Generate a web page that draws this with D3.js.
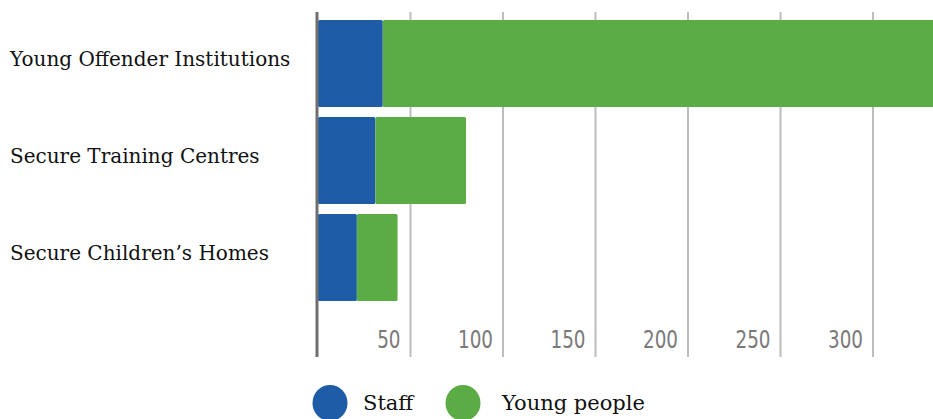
<!DOCTYPE html>
<html>
<head>
<meta charset="utf-8">
<script src="https://cdn.jsdelivr.net/npm/d3@7"></script>
<style>
  body { margin: 0; background: #fff; }
  svg { display: block; }
</style>
</head>
<body>
<div id="container"></div>
<script>
const categories  = ["Young Offender Institutions", "Secure Training Centres", "Secure Children\u2019s Homes"];
const staff       = [35, 31, 21];
const youngPeople = [315, 49, 22];
const seriesNames = ["Staff", "Young people"];
const tickValues  = [50, 100, 150, 200, 250, 300];

const width  = 933;
const height = 419;
const colors = ["#1f5ca8", "#5cac46"];

const rows = categories.map((c, i) => ({ category: c, staff: staff[i], young: youngPeople[i] }));

const svg = d3.select("#container")
  .append("svg")
    .attr("width", width)
    .attr("height", height);

const x = d3.scaleLinear()
  .domain([0, 350])
  .range([318, 318 + 350 * 1.85]);

const y = d3.scaleBand()
  .domain(categories)
  .range([20, 301])
  .paddingInner(0.103)
  .paddingOuter(0);

// gridlines
svg.append("g")
  .selectAll("line")
  .data(tickValues)
  .join("line")
    .attr("x1", d => x(d))
    .attr("x2", d => x(d))
    .attr("y1", 12)
    .attr("y2", 357)
    .attr("stroke", "#bdbdbd")
    .attr("stroke-width", 2);

// tick labels
svg.append("g")
  .selectAll("text")
  .data(tickValues)
  .join("text")
    .attr("x", d => x(d) - 10)
    .attr("y", 348)
    .attr("text-anchor", "end")
    .attr("font-family", "'DejaVu Sans Condensed', sans-serif")
    .attr("font-size", 24)
    .attr("fill", "#7a7a7a")
    .attr("transform", d => `translate(${x(d) - 10},348) scale(0.85,1.05) translate(${-(x(d) - 10)},-348)`)
    .text(d => d);

// stacked bars
const stack = d3.stack().keys(["staff", "young"]);
const layers = stack(rows);

svg.append("g")
  .selectAll("g")
  .data(layers)
  .join("g")
    .attr("fill", (d, i) => colors[i])
  .selectAll("rect")
  .data(d => d)
  .join("rect")
    .attr("x", d => x(d[0]))
    .attr("y", d => y(d.data.category))
    .attr("width", d => x(d[1]) - x(d[0]))
    .attr("height", y.bandwidth())
    .attr("rx", 1.5);

// axis line
svg.append("line")
  .attr("x1", x(0) - 1)
  .attr("x2", x(0) - 1)
  .attr("y1", 12)
  .attr("y2", 357)
  .attr("stroke", "#6f6f6f")
  .attr("stroke-width", 3);

// category labels
svg.append("g")
  .selectAll("text")
  .data(categories)
  .join("text")
    .attr("x", 10)
    .attr("y", d => y(d) + y.bandwidth() / 2 - 3)
    .attr("dominant-baseline", "middle")
    .attr("font-family", "'DejaVu Serif', serif")
    .attr("font-size", 20)
    .attr("fill", "#111")
    .text(d => d);

// legend
const legendX = [330, 463];
const legendTextDx = [33, 39];
const legend = svg.append("g")
  .selectAll("g")
  .data(seriesNames)
  .join("g")
    .attr("transform", (d, i) => `translate(${legendX[i]},403)`);

legend.append("ellipse")
  .attr("rx", 17.5)
  .attr("ry", 18)
  .attr("fill", (d, i) => colors[i]);

legend.append("text")
  .attr("x", (d, i) => legendTextDx[i])
  .attr("y", 7)
  .attr("font-family", "'DejaVu Serif', serif")
  .attr("font-size", 21)
  .attr("fill", "#111")
  .text(d => d);
</script>
</body>
</html>
